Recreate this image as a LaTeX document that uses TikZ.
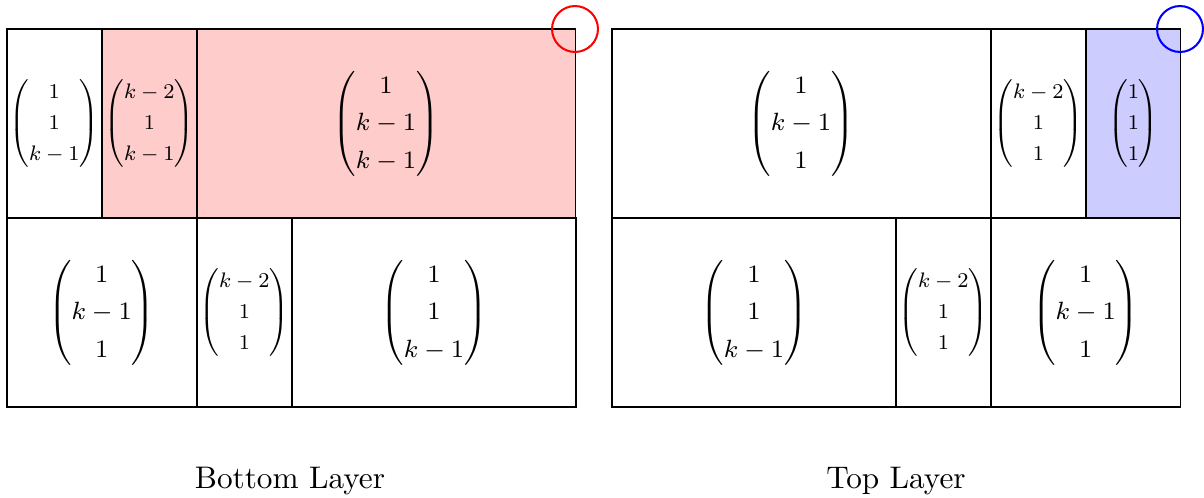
\documentclass[tikz,border=0pt]{standalone}
\usepackage{amsmath}
\begin{document}
\begin{tikzpicture}[x=0.32pt,y=-0.32pt,
  cell/.style={draw=black, line width=0.35pt, inner sep=0pt, outer sep=0pt, minimum height=60.48pt, anchor=north west},
  wa/.style={minimum width=30.29pt},
  wb/.style={minimum width=60.59pt},
  wc/.style={minimum width=90.88pt},
  wd/.style={minimum width=121.0pt},
  redcell/.style={fill=red!20},
  bluecell/.style={fill=blue!20},
  mat/.style={inner sep=0pt, font=\footnotesize\renewcommand{\arraystretch}{1.25}},
  smat/.style={mat, scale=0.84, transform shape},
  ring/.style={circle, draw=#1, line width=0.65pt, minimum size=14.7pt, inner sep=0pt},
  lab/.style={inner sep=0pt}]
\useasboundingbox (0,0) rectangle (1204,497);
% Bottom layer
\node[cell,wa] (b1) at (7,29) {};
\node[cell,wa,redcell] (b2) at (102,29) {};
\node[cell,wd,redcell] (b3) at (197,29) {};
\node[cell,wb] (b4) at (7,218) {};
\node[cell,wa] (b5) at (197,218) {};
\node[cell,wc] (b6) at (292,218) {};
\node[smat] (m1) at (b1.center) {$\begin{pmatrix}1\\1\\k-1\end{pmatrix}$};
\node[smat] (m2) at (b2.center) {$\begin{pmatrix}k-2\\1\\k-1\end{pmatrix}$};
\node[mat] (m3) at (b3.center) {$\begin{pmatrix}1\\k-1\\k-1\end{pmatrix}$};
\node[mat] (m4) at (b4.center) {$\begin{pmatrix}1\\k-1\\1\end{pmatrix}$};
\node[smat] (m5) at (b5.center) {$\begin{pmatrix}k-2\\1\\1\end{pmatrix}$};
\node[mat] (m6) at (b6.center) {$\begin{pmatrix}1\\1\\k-1\end{pmatrix}$};
\node[ring=red] (rc) at (575,29) {};
\node[lab] (bl) at (290,481) {Bottom Layer};
% Top layer
\node[cell,wd] (t1) at (612,29) {};
\node[cell,wa] (t2) at (991,29) {};
\node[cell,wa,bluecell] (t3) at (1086,29) {};
\node[cell,wc] (t4) at (612,218) {};
\node[cell,wa] (t5) at (896,218) {};
\node[cell,wb] (t6) at (991,218) {};
\node[mat] (n1) at (t1.center) {$\begin{pmatrix}1\\k-1\\1\end{pmatrix}$};
\node[smat] (n2) at (t2.center) {$\begin{pmatrix}k-2\\1\\1\end{pmatrix}$};
\node[smat] (n3) at (t3.center) {$\begin{pmatrix}1\\1\\1\end{pmatrix}$};
\node[mat] (n4) at (t4.center) {$\begin{pmatrix}1\\1\\k-1\end{pmatrix}$};
\node[smat] (n5) at (t5.center) {$\begin{pmatrix}k-2\\1\\1\end{pmatrix}$};
\node[mat] (n6) at (t6.center) {$\begin{pmatrix}1\\k-1\\1\end{pmatrix}$};
\node[ring=blue] (bc) at (1180,29) {};
\node[lab] (tl) at (896,481) {Top Layer};
\end{tikzpicture}
\end{document}
